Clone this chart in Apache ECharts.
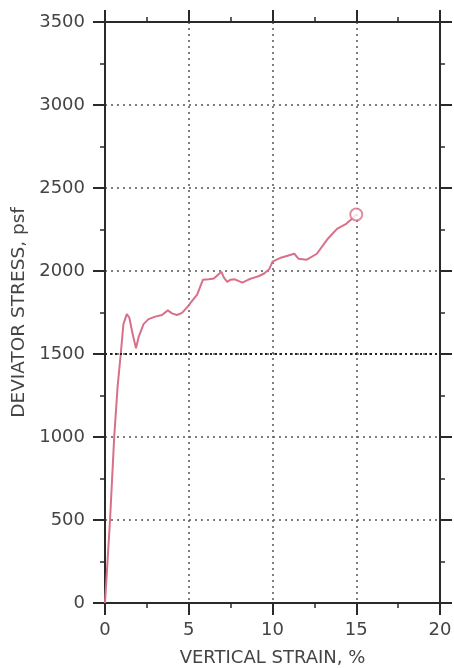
<!DOCTYPE html>
<html>
<head>
<meta charset="utf-8">
<script src="https://cdn.jsdelivr.net/npm/echarts@6/dist/echarts.min.js"></script>
<style>
html,body{margin:0;padding:0;background:#fff;}
#chart{width:454px;height:668px;}
</style>
</head>
<body>
<div id="chart"></div>
<script>
// Vertical strain (%) and deviator stress (psf)
var strain = [0, 0.3, 0.55, 0.75, 0.94, 1.1, 1.3, 1.45, 1.65, 1.85, 2.0, 2.3, 2.6, 3.0, 3.4, 3.75, 4.0, 4.3, 4.6, 4.95, 5.2, 5.5, 5.85, 6.2, 6.5, 6.95, 7.1, 7.3, 7.5, 7.75, 8.2, 8.6, 8.9, 9.2, 9.5, 9.8, 10.0, 10.5, 11.0, 11.3, 11.55, 12.05, 12.65, 13.25, 13.85, 14.4, 14.8, 15.0];
var stress = [0, 500, 1000, 1300, 1500, 1680, 1740, 1720, 1620, 1535, 1600, 1680, 1710, 1725, 1735, 1763, 1745, 1735, 1748, 1787, 1820, 1858, 1948, 1950, 1955, 1995, 1960, 1935, 1948, 1950, 1930, 1950, 1960, 1970, 1985, 2010, 2056, 2080, 2095, 2104, 2074, 2068, 2104, 2188, 2254, 2284, 2320, 2340];
var endPoint = [15.0, 2340];
var xTitle = 'VERTICAL STRAIN, %';
var yTitle = 'DEVIATOR STRESS, psf';
var xMin = 0, xMax = 20, xStep = 5;
var yMin = 0, yMax = 3500, yStep = 500;
var emphLine = 1500;

var pts = strain.map(function (s, i) { return [s, stress[i]]; });
var axisColor = '#2a2a2a';
var textColor = '#444';
var font = 'DejaVu Sans';
var lineColor = '#d9708a';

function axisCommon(showLabel, withGrid) {
  return {
    axisLine: { show: true, onZero: false, lineStyle: { color: axisColor, width: 2 } },
    axisTick: { show: true, inside: false, length: 12, lineStyle: { color: axisColor, width: 2 } },
    minorTick: { show: true, splitNumber: 2, length: 5, lineStyle: { color: axisColor, width: 1.5 } },
    axisLabel: { show: showLabel, color: textColor, fontFamily: font, fontSize: 18, margin: 20,
      formatter: function (v) { return String(v); } },
    splitLine: { show: withGrid, showMinLine: false, showMaxLine: false,
      lineStyle: { color: '#555', width: 1.5, type: [2, 4] } }
  };
}

var chart = echarts.init(document.getElementById('chart'), null, { renderer: 'canvas' });
var xa0 = Object.assign(axisCommon(true, true), {
  type: 'value', position: 'bottom', min: xMin, max: xMax, interval: xStep,
  name: xTitle, nameLocation: 'middle', nameGap: 46,
  nameTextStyle: { color: textColor, fontFamily: font, fontSize: 18 }
});
xa0.axisLabel.margin = 18;
var xa1 = Object.assign(axisCommon(false, false), {
  type: 'value', position: 'top', min: xMin, max: xMax, interval: xStep
});
var ya0 = Object.assign(axisCommon(true, true), {
  type: 'value', position: 'left', min: yMin, max: yMax, interval: yStep,
  name: yTitle, nameLocation: 'middle', nameGap: 69,
  nameTextStyle: { color: textColor, fontFamily: font, fontSize: 18.5 }
});
var ya1 = Object.assign(axisCommon(false, false), {
  type: 'value', position: 'right', min: yMin, max: yMax, interval: yStep
});

chart.setOption({
  animation: false,
  backgroundColor: '#fff',
  grid: { left: 105, right: 14, top: 22, bottom: 65, containLabel: false, outerBoundsMode: 'none' },
  xAxis: [xa0, xa1],
  yAxis: [ya0, ya1],
  series: [
    {
      type: 'line', data: pts, showSymbol: false, smooth: false,
      lineStyle: { color: lineColor, width: 2 },
      markLine: {
        silent: true, symbol: 'none', label: { show: false },
        lineStyle: { color: '#222', width: 2, type: [2, 3] },
        data: [{ yAxis: emphLine }]
      },
      z: 3
    },
    {
      type: 'scatter', data: [endPoint], symbol: 'emptyCircle', symbolSize: 12,
      itemStyle: { color: lineColor, borderColor: lineColor, borderWidth: 1.5 }, z: 4
    }
  ]
});
</script>
</body>
</html>
